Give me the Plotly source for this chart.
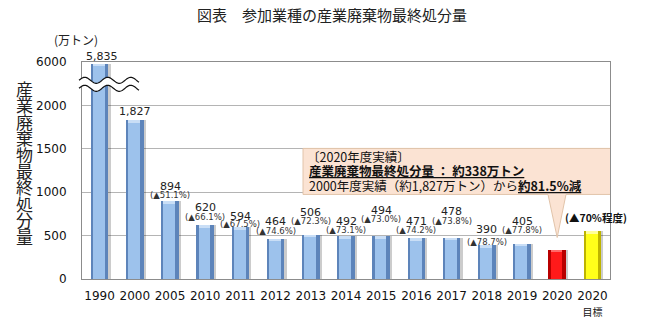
import numpy as np
import plotly.graph_objects as go

# ---- data -------------------------------------------------------------
years = ["1990", "2000", "2005", "2010", "2011", "2012", "2013", "2014",
         "2015", "2016", "2017", "2018", "2019", "2020", "2020"]
amounts = [5835, 1827, 894, 620, 594, 464, 506, 492, 494, 471, 478, 390, 405, 338, 548]
value_labels = ["5,835", "1,827", "894", "620", "594", "464", "506", "492",
                "494", "471", "478", "390", "405", "", ""]
reduction_labels = ["", "", "(▲51.1%)", "(▲66.1%)", "(▲67.5%)", "(▲74.6%)", "(▲72.3%)",
                    "(▲73.1%)", "(▲73.0%)", "(▲74.2%)", "(▲73.8%)", "(▲78.7%)",
                    "(▲77.8%)", "", ""]
target_label = "(▲70%程度)"
y_tick_values = [0, 500, 1000, 1500, 2000, 6000]
bar_kind = ["base"] * 13 + ["actual", "target"]

# ---- layout geometry (pixels) -----------------------------------------
W, H = 650, 330
PL, PR, PT, PB = 82, 610, 62, 293
N = len(years)

# broken y axis: 0-2000 linear, 2000-6000 squeezed into one 500 step
BREAK = 2000
SQUEEZE = 500 / 4000
Y_TOP = 2500


def axis_value(v):
    return v if v <= BREAK else BREAK + (v - BREAK) * SQUEEZE


def px_x(px):          # pixel -> x data
    return (px - PL) / (PR - PL) * N - 0.5


def px_y(py):          # pixel -> y data
    return (PB - py) / (PB - PT) * Y_TOP


def paper_x(px):
    return (px - PL) / (PR - PL)


def paper_y(py):
    return (PB - py) / (PB - PT)


xs = list(range(N))
ys = [axis_value(v) for v in amounts]

outer_colors = {"base": "#5D84BA", "actual": "#B80000", "target": "#BDB400"}
inner_colors = {"base": "#9DC2EC", "actual": "#FF1A1A", "target": "#FFFF1A"}
cap_colors = {"base": "#C9DEF6", "actual": "#FF6A6A", "target": "#FFFF9A"}

NUM_FONT = "DejaVu Sans, Noto Sans CJK JP"
JP_FONT = "Noto Sans CJK JP, DejaVu Sans"

fig = go.Figure()

# soft drop shadow
fig.add_trace(go.Bar(x=xs, y=ys, width=0.5, offset=-0.19,
                     marker=dict(color="rgba(0,0,0,0.2)", line=dict(width=0)),
                     hoverinfo="skip", showlegend=False))
# bar body with bevelled look
fig.add_trace(go.Bar(x=xs, y=ys, width=0.5, offset=-0.25,
                     marker=dict(color=[outer_colors[k] for k in bar_kind], line=dict(width=0)),
                     showlegend=False))
fig.add_trace(go.Bar(x=xs, y=[v - 22 for v in ys], width=0.34, offset=-0.19,
                     marker=dict(color=[inner_colors[k] for k in bar_kind], line=dict(width=0)),
                     hoverinfo="skip", showlegend=False))
fig.add_trace(go.Bar(x=xs, y=[22] * N, base=[v - 22 for v in ys], width=0.34, offset=-0.19,
                     marker=dict(color=[cap_colors[k] for k in bar_kind], line=dict(width=0)),
                     hoverinfo="skip", showlegend=False))

annotations = []


def note(**kw):
    kw.setdefault("showarrow", False)
    kw.setdefault("xanchor", "center")
    kw.setdefault("yanchor", "middle")
    annotations.append(kw)


# value labels above bars
value_shift = [7, 9, 15, 18, 11, 17, 23, 15, 26, 17, 26, 16, 22, 0, 0]
pct_shift = [0, 0, 6, 8, 3, 8, 14, 6, 17, 8, 17, 3, 14, 0, 0]
for i in range(N):
    if value_labels[i]:
        note(x=xs[i], y=ys[i], xref="x", yref="y", text=value_labels[i],
             yshift=value_shift[i], xshift=2 if i == 0 else 0,
             font=dict(family=NUM_FONT, size=11, color="#222222"))
    if reduction_labels[i]:
        note(x=xs[i], y=ys[i], xref="x", yref="y", text=reduction_labels[i],
             yshift=pct_shift[i],
             font=dict(family=NUM_FONT, size=8.5, color="#333333"))
note(x=xs[-1], y=ys[-1], xref="x", yref="y", text="<b>" + target_label + "</b>",
     yshift=14, xshift=4, font=dict(family=JP_FONT, size=10.5, color="#111111"))

# unit label
note(x=paper_x(76), y=paper_y(38), xref="paper", yref="paper", text="(万トン)",
     font=dict(family=JP_FONT, size=12, color="#222222"))

# vertical axis title, one character per row
axis_title = "産業廃棄物最終処分量"
for k, ch in enumerate(axis_title):
    note(x=paper_x(24), y=paper_y(90 + k * 17.5), xref="paper", yref="paper", text=ch,
         font=dict(family=JP_FONT, size=17, color="#222222"))

# callout text
callout_lines = [
    ("〔2020年度実績〕", 305, 163),
    ("<b><u>産業廃棄物最終処分量 ： 約338万トン</u></b>", 307, 178),
    ("2000年度実績（約1,827万トン）から<b><u>約81.5%減</u></b>", 307, 193),
]
for txt, lx, ly in callout_lines:
    note(x=paper_x(lx), y=paper_y(ly), xref="paper", yref="paper", text=txt, xanchor="left",
         font=dict(family=JP_FONT, size=12.5, color="#111111"))

shapes = []

# callout box with pointer to the 2020 bar
bx0, bx1 = px_x(303), px_x(611)
by0, by1 = px_y(203), px_y(154)
tip_x, tip_y = xs[13], ys[13] + 140
p0, p1 = px_x(548), px_x(566)
callout_path = (f"M {bx0},{by1} L {bx1},{by1} L {bx1},{by0} L {p1},{by0} "
                f"L {tip_x},{tip_y} L {p0},{by0} L {bx0},{by0} Z")
shapes.append(dict(type="path", path=callout_path, xref="x", yref="y", layer="above",
                   fillcolor="#FBE3D3", line=dict(color="#E2C4AA", width=1)))

# axis break: white band framed by two wavy lines
wx = np.linspace(79, 139, 90)
upper = 81.5 - 3.2 * np.sin(2 * np.pi * (wx - 79) / 23)
lower = upper + 8.5
band = "M " + " L ".join(f"{paper_x(a)},{paper_y(b)}" for a, b in zip(wx, upper))
band += " L " + " L ".join(f"{paper_x(a)},{paper_y(b)}" for a, b in zip(wx[::-1], lower[::-1])) + " Z"
shapes.append(dict(type="path", path=band, xref="paper", yref="paper", layer="above",
                   fillcolor="white", line=dict(width=0)))
for curve in (upper, lower):
    p = "M " + " L ".join(f"{paper_x(a)},{paper_y(b)}" for a, b in zip(wx, curve))
    shapes.append(dict(type="path", path=p, xref="paper", yref="paper", layer="above",
                       line=dict(color="#111111", width=1.2)))

tick_text = years[:-1] + ["2020<br><span style='font-size:10px'>目標</span>"]

fig.update_layout(
    width=W, height=H,
    margin=dict(l=PL, r=W - PR, t=PT, b=H - PB),
    paper_bgcolor="white", plot_bgcolor="white",
    barmode="overlay", bargap=0,
    showlegend=False,
    title=dict(text="図表　参加業種の産業廃棄物最終処分量", x=332 / W, xanchor="center",
               y=1 - 16 / H, yanchor="middle", yref="container",
               font=dict(family=JP_FONT, size=15, color="#222222")),
    xaxis=dict(range=[-0.5, N - 0.5], tickmode="array", tickvals=xs, ticktext=tick_text,
               showgrid=False, showline=True, linecolor="#8C8C8C", linewidth=1, mirror=True,
               ticks="", ticklabelstandoff=6,
               tickfont=dict(family=NUM_FONT, size=12, color="#111111"), fixedrange=True),
    yaxis=dict(range=[0, Y_TOP], tickmode="array",
               tickvals=[axis_value(v) for v in y_tick_values],
               ticktext=[str(v) for v in y_tick_values],
               showgrid=True, gridcolor="#B4B4B4", gridwidth=1,
               showline=True, linecolor="#8C8C8C", linewidth=1, mirror=True,
               ticks="", ticklabelstandoff=12, zeroline=False,
               tickfont=dict(family=NUM_FONT, size=12, color="#111111"), fixedrange=True),
    annotations=annotations,
    shapes=shapes,
)

fig.write_html("out.html")
